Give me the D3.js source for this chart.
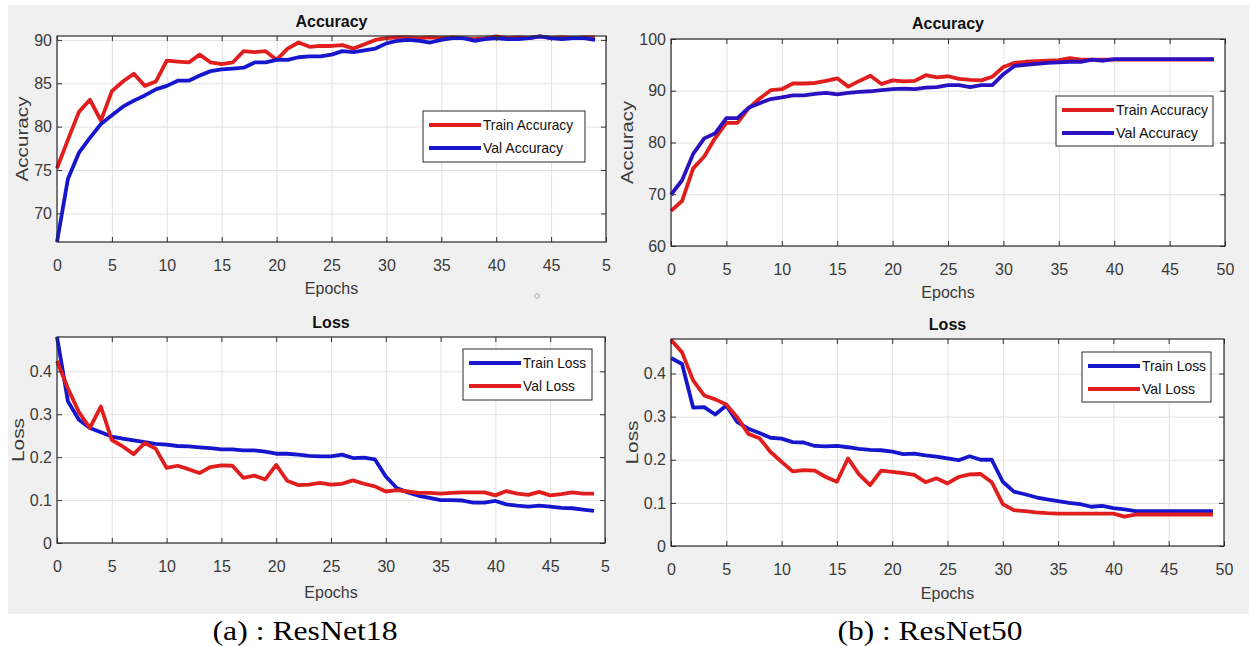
<!DOCTYPE html>
<html>
<head>
<meta charset="utf-8">
<script src="https://cdn.jsdelivr.net/npm/d3@7"></script>
<style>
  body { margin: 0; background: #fff; }
  text { font-family: 'Liberation Sans', Arial, sans-serif; }
</style>
</head>
<body>
<svg id="chart"></svg>
<script>
// epochs on the x axis
let epochs = d3.range(50)
let xTicks = [0, 5, 10, 15, 20, 25, 30, 35, 40, 45, 50]
// the left figure has its last label cut off in the source
let xLabels18 = ['0', '5', '10', '15', '20', '25', '30', '35', '40', '45', '5']
let xLabels50 = ['0', '5', '10', '15', '20', '25', '30', '35', '40', '45', '50']
let accTicks18 = [70, 75, 80, 85, 90]
let accTicks50 = [60, 70, 80, 90, 100]
let lossTicks = [0, 0.1, 0.2, 0.3, 0.4]
let lossLabels = ['0', '0.1', '0.2', '0.3', '0.4']

//ResNet18 accuracy
let trainAcc18 = [75.2, 78.5, 81.7, 83.1, 80.7, 84.1, 85.2, 86.1, 84.7, 85.2,
  87.6, 87.5, 87.4, 88.3, 87.4, 87.2, 87.4, 88.7, 88.6, 88.7,
  87.7, 89.0, 89.7, 89.2, 89.3, 89.3, 89.4, 89.0, 89.5, 90.0,
  90.2, 90.3, 90.3, 90.2, 90.3, 90.2, 90.3, 90.2, 90.1, 90.2,
  90.4, 90.2, 90.3, 90.2, 90.4, 90.2, 90.3, 90.2, 90.3, 90.3]
let valAcc18 = [66.7, 74.0, 77.0, 78.7, 80.3, 81.3, 82.3, 83.0, 83.6, 84.3,
  84.7, 85.3, 85.3, 85.9, 86.4, 86.6, 86.7, 86.8, 87.4, 87.4,
  87.7, 87.7, 88.0, 88.1, 88.1, 88.3, 88.7, 88.6, 88.8, 89.0,
  89.6, 89.9, 90.0, 89.9, 89.7, 90.0, 90.2, 90.2, 89.9, 90.1,
  90.2, 90.1, 90.1, 90.2, 90.4, 90.2, 90.1, 90.2, 90.2, 90.0]

//ResNet18 loss
let trainLoss18 = [0.480, 0.330, 0.287, 0.268, 0.258, 0.248, 0.243, 0.239, 0.235, 0.231,
  0.229, 0.226, 0.225, 0.223, 0.221, 0.218, 0.218, 0.216, 0.216, 0.213,
  0.208, 0.208, 0.206, 0.203, 0.202, 0.202, 0.206, 0.198, 0.199, 0.195,
  0.155, 0.128, 0.118, 0.110, 0.105, 0.100, 0.100, 0.099, 0.094, 0.094,
  0.098, 0.090, 0.087, 0.085, 0.087, 0.085, 0.082, 0.081, 0.078, 0.075]
let valLoss18 = [0.424, 0.360, 0.305, 0.268, 0.318, 0.240, 0.225, 0.207, 0.233, 0.220,
  0.175, 0.180, 0.172, 0.163, 0.177, 0.181, 0.180, 0.152, 0.157, 0.148,
  0.182, 0.145, 0.135, 0.136, 0.140, 0.136, 0.138, 0.146, 0.138, 0.132,
  0.120, 0.123, 0.120, 0.117, 0.117, 0.115, 0.117, 0.118, 0.118, 0.118,
  0.111, 0.121, 0.115, 0.112, 0.119, 0.111, 0.114, 0.118, 0.115, 0.115]

//ResNet50 accuracy
let trainAcc50 = [66.8, 68.7, 75.0, 77.3, 80.9, 83.8, 83.8, 86.6, 88.5, 90.1,
  90.3, 91.4, 91.4, 91.5, 91.9, 92.4, 90.8, 91.9, 92.9, 91.3,
  92.0, 91.8, 91.9, 93.0, 92.6, 92.8, 92.3, 92.1, 92.0, 92.7,
  94.6, 95.4, 95.6, 95.7, 95.8, 95.9, 96.3, 96.0, 96.0, 96.0,
  96.0, 96.0, 96.0, 96.0, 96.0, 96.0, 96.0, 96.0, 96.0, 96.0]
let valAcc50 = [69.9, 72.7, 77.8, 80.8, 81.8, 84.7, 84.7, 86.7, 87.6, 88.4,
  88.7, 89.1, 89.1, 89.4, 89.6, 89.3, 89.6, 89.8, 89.9, 90.1,
  90.3, 90.4, 90.3, 90.6, 90.7, 91.1, 91.1, 90.7, 91.1, 91.1,
  93.2, 94.8, 95.0, 95.2, 95.4, 95.5, 95.6, 95.6, 96.0, 95.8,
  96.1, 96.1, 96.1, 96.1, 96.1, 96.1, 96.1, 96.1, 96.1, 96.1]

//ResNet50 loss
let trainLoss50 = [0.436, 0.422, 0.321, 0.322, 0.305, 0.326, 0.287, 0.272, 0.262, 0.251,
  0.249, 0.241, 0.240, 0.232, 0.231, 0.232, 0.229, 0.225, 0.223, 0.222,
  0.219, 0.213, 0.214, 0.210, 0.207, 0.203, 0.199, 0.208, 0.200, 0.200,
  0.149, 0.126, 0.120, 0.113, 0.108, 0.104, 0.100, 0.097, 0.091, 0.093,
  0.088, 0.085, 0.081, 0.081, 0.081, 0.081, 0.081, 0.081, 0.081, 0.081]
let valLoss50 = [0.478, 0.449, 0.384, 0.349, 0.340, 0.328, 0.298, 0.260, 0.250, 0.218,
  0.195, 0.173, 0.176, 0.175, 0.160, 0.149, 0.203, 0.166, 0.141, 0.175,
  0.172, 0.169, 0.165, 0.148, 0.157, 0.145, 0.160, 0.166, 0.167, 0.148,
  0.097, 0.083, 0.081, 0.078, 0.076, 0.075, 0.075, 0.075, 0.075, 0.075,
  0.075, 0.068, 0.073, 0.073, 0.073, 0.073, 0.073, 0.073, 0.073, 0.073]

let red = '#e01e1e'
let blue = '#1616cc'
let purple = '#2a12c0'

let outerWidth = 1249
let outerHeight = 646

let svg = d3.select('svg#chart')
  .attr('width', outerWidth)
  .attr('height', outerHeight)

//grey figure background
svg.append('rect')
  .attr('x', 8).attr('y', 5)
  .attr('width', outerWidth - 8).attr('height', 609)
  .attr('fill', '#f0f0f0')

let panels = [
  { left: 57, right: 606, top: 36, bottom: 242, yDomain: [66.7, 90.45], yTicks: accTicks18, yLabels: accTicks18.map(String), xLabels: xLabels18,
    title: 'Accuracy', titleY: 27, ylabel: 'Accuracy', ylabelX: 28, ylabelLen: 85, xlabelY: 294,
    series: [{ name: 'Train Accuracy', values: trainAcc18, color: red }, { name: 'Val Accuracy', values: valAcc18, color: blue }],
    legend: { x: 423, y: 111, w: 162, h: 51, textLen: [90, 80] } },
  { left: 671, right: 1225, top: 39, bottom: 246, yDomain: [60, 100], yTicks: accTicks50, yLabels: accTicks50.map(String), xLabels: xLabels50,
    title: 'Accuracy', titleY: 29, ylabel: 'Accuracy', ylabelX: 633, ylabelLen: 83, xlabelY: 298,
    series: [{ name: 'Train Accuracy', values: trainAcc50, color: red }, { name: 'Val Accuracy', values: valAcc50, color: purple }],
    legend: { x: 1056, y: 96, w: 157, h: 50, textLen: [92, 82] } },
  { left: 57, right: 605, top: 337, bottom: 543, yDomain: [0, 0.48], yTicks: lossTicks, yLabels: lossLabels, xLabels: xLabels18,
    title: 'Loss', titleY: 328, ylabel: 'Loss', ylabelX: 24, ylabelLen: 44, xlabelY: 598,
    series: [{ name: 'Train Loss', values: trainLoss18, color: blue }, { name: 'Val Loss', values: valLoss18, color: red }],
    legend: { x: 463, y: 349, w: 129, h: 51, textLen: [63, 52] } },
  { left: 671, right: 1224, top: 339, bottom: 546, yDomain: [0, 0.48], yTicks: lossTicks, yLabels: lossLabels, xLabels: xLabels50,
    title: 'Loss', titleY: 330, ylabel: 'Loss', ylabelX: 638, ylabelLen: 44, xlabelY: 599,
    series: [{ name: 'Train Loss', values: trainLoss50, color: blue }, { name: 'Val Loss', values: valLoss50, color: red }],
    legend: { x: 1082, y: 352, w: 129, h: 50, textLen: [64, 53] } }
]

panels.forEach(drawPanel)

function drawPanel(p) {
  let g = svg.append('g')
  let innerH = p.bottom - p.top
  let innerW = p.right - p.left

  let xScale = d3.scaleLinear().domain([0, 50]).range([p.left, p.right])
  let yScale = d3.scaleLinear().domain(p.yDomain).range([p.bottom, p.top])

  //white plotting region
  g.append('rect')
    .attr('x', p.left).attr('y', p.top)
    .attr('width', innerW).attr('height', innerH)
    .attr('fill', '#fff')

  //grid
  g.append('g')
    .attr('class', 'grid')
    .attr('transform', 'translate(0,' + p.bottom + ')')
    .call(d3.axisBottom(xScale).tickValues(xTicks).tickSize(-innerH).tickFormat(''))
  g.append('g')
    .attr('class', 'grid')
    .attr('transform', 'translate(' + p.left + ',0)')
    .call(d3.axisLeft(yScale).tickValues(p.yTicks).tickSize(-innerW).tickFormat(''))
  g.selectAll('.grid .domain').remove()
  g.selectAll('.grid line').attr('stroke', '#e2e2e2')

  //lines
  let line = d3.line().x((d, i) => xScale(epochs[i])).y(d => yScale(d))
  p.series.forEach(s => {
    g.append('path')
      .datum(s.values)
      .attr('fill', 'none')
      .attr('stroke', s.color)
      .attr('stroke-width', 3.8)
      .attr('stroke-linejoin', 'round')
      .attr('d', line)
  })

  //inward ticks on all four sides
  g.append('g').attr('class', 'ax')
    .attr('transform', 'translate(0,' + p.bottom + ')')
    .call(d3.axisBottom(xScale).tickValues(xTicks).tickSize(-5).tickPadding(18)
      .tickFormat((d, i) => p.xLabels[i]))
  g.append('g').attr('class', 'ax')
    .attr('transform', 'translate(' + p.left + ',0)')
    .call(d3.axisLeft(yScale).tickValues(p.yTicks).tickSize(-5).tickPadding(5)
      .tickFormat((d, i) => p.yLabels[i]))
  g.append('g').attr('class', 'ax')
    .attr('transform', 'translate(0,' + p.top + ')')
    .call(d3.axisTop(xScale).tickValues(xTicks).tickSize(-5).tickFormat(''))
  g.append('g').attr('class', 'ax')
    .attr('transform', 'translate(' + p.right + ',0)')
    .call(d3.axisRight(yScale).tickValues(p.yTicks).tickSize(-5).tickFormat(''))
  g.selectAll('.ax .domain').remove()
  g.selectAll('.ax line').attr('stroke', '#333')
  g.selectAll('.ax text')
    .attr('fill', '#3a3a3a')
    .style('font-size', '16px')
    .style('font-family', "'Liberation Sans', Arial, sans-serif")

  //box
  g.append('rect')
    .attr('x', p.left).attr('y', p.top)
    .attr('width', innerW).attr('height', innerH)
    .attr('fill', 'none')
    .attr('stroke', '#2a2a2a')
    .attr('stroke-width', 1.2)

  //title and axis labels
  g.append('text')
    .attr('x', (p.left + p.right) / 2)
    .attr('y', p.titleY)
    .attr('text-anchor', 'middle')
    .style('font-size', '16px')
    .style('font-weight', 'bold')
    .attr('fill', '#111')
    .text(p.title)

  g.append('text')
    .attr('x', (p.left + p.right) / 2)
    .attr('y', p.xlabelY)
    .attr('text-anchor', 'middle')
    .style('font-size', '16px')
    .attr('fill', '#3a3a3a')
    .text('Epochs')

  let cy = (p.top + p.bottom) / 2
  g.append('text')
    .attr('x', p.ylabelX)
    .attr('y', cy)
    .attr('text-anchor', 'middle')
    .attr('transform', `rotate(-90 ${p.ylabelX} ${cy})`)
    .attr('textLength', p.ylabelLen)
    .attr('lengthAdjust', 'spacingAndGlyphs')
    .style('font-size', '17px')
    .attr('fill', '#3a3a3a')
    .text(p.ylabel)

  //legend
  let L = p.legend
  let lg = g.append('g')
  lg.append('rect')
    .attr('x', L.x).attr('y', L.y)
    .attr('width', L.w).attr('height', L.h)
    .attr('fill', '#fff')
    .attr('stroke', '#2a2a2a')
    .attr('stroke-width', 1)
  p.series.forEach((s, i) => {
    let ry = L.y + 14 + i * 23
    lg.append('line')
      .attr('x1', L.x + 6).attr('x2', L.x + 58)
      .attr('y1', ry).attr('y2', ry)
      .attr('stroke', s.color)
      .attr('stroke-width', 4)
    lg.append('text')
      .attr('x', L.x + 60)
      .attr('y', ry + 5)
      .attr('textLength', L.textLen[i])
      .attr('lengthAdjust', 'spacingAndGlyphs')
      .style('font-size', '15px')
      .attr('fill', '#111')
      .text(s.name)
  })
}

//small stray mark in the source figure
svg.append('circle')
  .attr('cx', 537).attr('cy', 296).attr('r', 2.3)
  .attr('fill', 'none').attr('stroke', '#aaa')

//captions
let captions = [{ text: '(a) : ResNet18', x: 305 }, { text: '(b) : ResNet50', x: 930 }]
svg.selectAll('text.caption')
  .data(captions)
  .enter()
  .append('text')
  .attr('class', 'caption')
  .attr('x', d => d.x)
  .attr('y', 640)
  .attr('text-anchor', 'middle')
  .attr('textLength', 185)
  .attr('lengthAdjust', 'spacingAndGlyphs')
  .style('font-family', "'Liberation Serif', 'Times New Roman', serif")
  .style('font-size', '27px')
  .attr('fill', '#000')
  .text(d => d.text)
</script>
</body>
</html>
